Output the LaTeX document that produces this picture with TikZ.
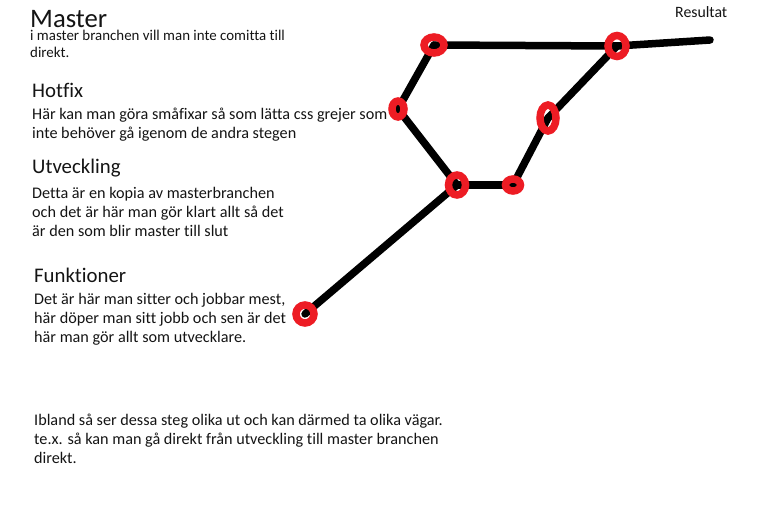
\documentclass[tikz,border=0pt]{standalone}
\usepackage{fontspec}
\setmainfont[Ligatures=NoCommon]{Carlito}
\usetikzlibrary{shapes.geometric}
\definecolor{paintred}{RGB}{237,28,36}
\definecolor{ink}{RGB}{20,20,20}
\tikzset{
  txt/.style={anchor=base west, inner sep=0pt, text=ink, font=\fontsize{16.2}{19}\selectfont},
  small/.style={txt, font=\fontsize{14.9}{18}\selectfont},
  head/.style={txt, font=\fontsize{20.8}{24}\selectfont},
  title/.style={txt, font=\fontsize{26.7}{30}\selectfont},
  wire/.style={line width=7.5pt, black, line cap=round, line join=round},
  ring/.style={ellipse, draw=paintred, line width=7.5pt, inner sep=0pt, fill=none}
}
\begin{document}
\begin{tikzpicture}[x=1pt, y=-1pt]
\useasboundingbox (0,0) rectangle (760,506);
% texts
\node[title] (tMaster) at (30,27.5) {Master};
\node[small] (tM1) at (30,40) {i master branchen vill man inte comitta till};
\node[small] (tM2) at (30,57.5) {direkt.};
\node[head] (tHot) at (32,97) {Hotfix};
\node[txt] (tH1) at (32,119) {Här kan man göra småfixar så som lätta css grejer som};
\node[txt] (tH2) at (32,138) {inte behöver gå igenom de andra stegen};
\node[head] (tUtv) at (32,173) {Utveckling};
\node[txt] (tU1) at (32,198) {Detta är en kopia av masterbranchen};
\node[txt] (tU2) at (32,217) {och det är här man gör klart allt så det};
\node[txt] (tU3) at (32,236) {är den som blir master till slut};
\node[head] (tFun) at (34,282) {Funktioner};
\node[txt] (tF1) at (34,304) {Det är här man sitter och jobbar mest,};
\node[txt] (tF2) at (34,323) {här döper man sitt jobb och sen är det};
\node[txt] (tF3) at (34,342) {här man gör allt som utvecklare.};
\node[txt] (tI1) at (34,425) {Ibland så ser dessa steg olika ut och kan därmed ta olika vägar.};
\node[txt] (tI2) at (34,444) {te.x. så kan man gå direkt från utveckling till master branchen};
\node[txt] (tI3) at (34,463) {direkt.};
\node[small, font=\fontsize{15.8}{18}\selectfont] (tRes) at (675,17) {Resultat};
% graph points
\coordinate (A) at (434,45);
\coordinate (B) at (617,46);
\coordinate (E) at (710,40);
\coordinate (H) at (398,109);
\coordinate (U) at (457,185);
\coordinate (V) at (513,185);
\coordinate (M) at (548,118);
\coordinate (F) at (305,314);
% connectors
\draw[wire] (F) -- (U);
\draw[wire] (U) -- (H);
\draw[wire] (H) -- (A);
\draw[wire] (A) -- (B);
\draw[wire] (B) -- (E);
\draw[wire] (U) -- (V);
\draw[wire] (V) -- (M);
\draw[wire] (M) -- (B);
% commit rings
\node[ring, minimum width=20pt, minimum height=16pt] (rA) at (A) {};
\node[ring, minimum width=18pt, minimum height=21pt] (rB) at (B) {};
\node[ring, minimum width=12pt, minimum height=16pt] (rH) at (H) {};
\node[ring, minimum width=17pt, minimum height=20pt] (rU) at (U) {};
\node[ring, minimum width=15pt, minimum height=12pt] (rV) at (V) {};
\node[ring, minimum width=16pt, minimum height=26pt] (rM) at (M) {};
\node[ring, minimum width=18pt, minimum height=18pt] (rF) at (F) {};
\end{tikzpicture}
\end{document}
